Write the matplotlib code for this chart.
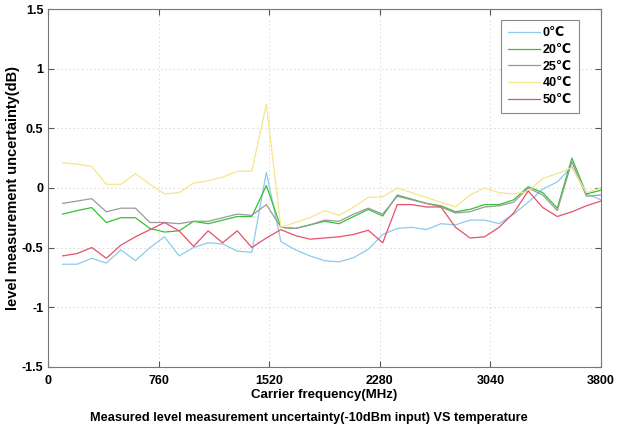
import matplotlib
matplotlib.use('Agg')
import matplotlib.pyplot as plt

plt.rcParams['font.family'] = ['Liberation Sans', 'DejaVu Sans']

# carrier frequency (MHz)
freq = [100, 200, 300, 400, 500, 600, 700, 800, 900, 1000,
        1100, 1200, 1300, 1400, 1500, 1600, 1700, 1800, 1900, 2000,
        2100, 2200, 2300, 2400, 2500, 2600, 2700, 2800, 2900, 3000,
        3100, 3200, 3300, 3400, 3500, 3600, 3700, 3800]

# level measurement uncertainty (dB) per temperature
t0 = [-0.64, -0.64, -0.59, -0.63, -0.52, -0.61, -0.50, -0.41, -0.57, -0.50,
      -0.46, -0.47, -0.53, -0.54, 0.13, -0.45, -0.52, -0.57, -0.61, -0.62,
      -0.585, -0.515, -0.39, -0.34, -0.33, -0.35, -0.30, -0.31, -0.27, -0.27,
      -0.30, -0.22, -0.12, -0.01, 0.05, 0.18, -0.05, -0.10]
t20 = [-0.22, -0.19, -0.165, -0.29, -0.25, -0.25, -0.34, -0.37, -0.36, -0.28,
       -0.30, -0.27, -0.24, -0.24, 0.02, -0.33, -0.34, -0.31, -0.28, -0.30,
       -0.24, -0.18, -0.235, -0.06, -0.095, -0.13, -0.15, -0.20, -0.18, -0.14,
       -0.14, -0.10, 0.01, -0.04, -0.17, 0.25, -0.05, -0.02]
t25 = [-0.13, -0.11, -0.09, -0.20, -0.17, -0.17, -0.29, -0.29, -0.30, -0.28,
       -0.28, -0.25, -0.22, -0.23, -0.14, -0.33, -0.34, -0.31, -0.27, -0.28,
       -0.22, -0.17, -0.22, -0.07, -0.10, -0.13, -0.16, -0.21, -0.20, -0.16,
       -0.15, -0.12, 0.0, -0.06, -0.19, 0.22, -0.07, -0.06]
t40 = [0.21, 0.20, 0.18, 0.03, 0.03, 0.12, 0.03, -0.05, -0.04, 0.04,
       0.06, 0.09, 0.14, 0.14, 0.70, -0.33, -0.29, -0.25, -0.19, -0.23,
       -0.16, -0.08, -0.075, 0.0, -0.04, -0.08, -0.12, -0.16, -0.06, 0.0,
       -0.04, -0.05, -0.03, 0.08, 0.12, 0.17, -0.04, 0.0]
t50 = [-0.57, -0.55, -0.50, -0.59, -0.48, -0.41, -0.35, -0.29, -0.36, -0.49,
       -0.36, -0.46, -0.36, -0.50, -0.42, -0.35, -0.40, -0.43, -0.42, -0.41,
       -0.39, -0.355, -0.46, -0.14, -0.14, -0.16, -0.16, -0.33, -0.42, -0.41,
       -0.33, -0.21, -0.025, -0.165, -0.24, -0.20, -0.15, -0.11]

labels = ['0\u2103', '20\u2103', '25\u2103', '40\u2103', '50\u2103']
xticks = [0, 760, 1520, 2280, 3040, 3800]
yticks = [-1.5, -1, -0.5, 0, 0.5, 1, 1.5]
ytick_labels = ['-1.5', '-1', '-0.5', '0', '0.5', '1', '1.5']

fig = plt.figure(figsize=(6.17, 4.30), dpi=100)
ax = fig.add_axes([0.078, 0.147, 0.896, 0.832])

series = [t0, t20, t25, t40, t50]
colors = ['#8ccbeb', '#33c233', '#9a9a9a', '#f5e58c', '#e8506a']
for vals, col, lab in zip(series, colors, labels):
    ax.plot(freq, vals, color=col, linewidth=0.9, label=lab)

ax.set_xlim(0, 3800)
ax.set_ylim(-1.5, 1.5)
ax.set_xticks(xticks)
ax.set_yticks(yticks)
ax.set_yticklabels(ytick_labels)
ax.tick_params(direction='in', top=True, right=True, length=4, labelsize=9,
               color='#555555')
ax.tick_params(axis='x', pad=6)
for t in ax.get_xticklabels() + ax.get_yticklabels():
    t.set_fontweight('bold')
ax.grid(True, linestyle=(0, (2, 3)), color='#d8d8d8', linewidth=0.6)
for sp in ax.spines.values():
    sp.set_color('#777777')
    sp.set_linewidth(0.8)

ax.set_xlabel('Carrier frequency(MHz)', fontsize=9.5, fontweight='bold', labelpad=1)
ax.set_ylabel('level measurement uncertainty(dB)', fontsize=10.5, fontweight='bold', labelpad=1)

leg = ax.legend(loc='upper right', prop={'weight': 'bold', 'size': 9},
                handlelength=2.6, handletextpad=0.2, borderpad=0.55,
                labelspacing=0.38, fancybox=False, framealpha=1,
                bbox_to_anchor=(0.971, 0.986))
leg.get_frame().set_edgecolor('#888888')
leg.get_frame().set_linewidth(0.8)

fig.text(0.5, 0.022, 'Measured level measurement uncertainty(-10dBm input) VS temperature',
         ha='center', fontsize=9.2, fontweight='bold')

fig.savefig('out.png', dpi=100)
